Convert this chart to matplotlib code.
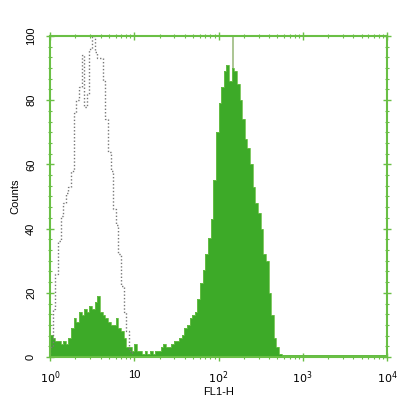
import numpy as np
import matplotlib
matplotlib.use("Agg")
import matplotlib.pyplot as plt
from matplotlib.ticker import FixedLocator, AutoMinorLocator, LogLocator, NullFormatter

plt.rcParams['font.family'] = ['Liberation Sans', 'DejaVu Sans']

# 128 log channels, 32 per decade, from 10^0 to 10^4
stained = [7, 6, 5, 5, 4, 5, 4, 6, 9, 12, 11, 14, 13, 15, 14, 16,
           15, 17, 19, 14, 13, 12, 11, 10, 10, 12, 9, 8, 6, 3, 3, 2,
           4, 2, 2, 1, 2, 1, 2, 1, 2, 2, 3, 4, 3, 3, 4, 5,
           5, 6, 7, 9, 10, 12, 13, 14, 18, 23, 27, 32, 37, 43, 55, 70,
           79, 84, 89, 91, 86, 90, 89, 85, 80, 74, 68, 65, 60, 53, 48, 45,
           40, 32, 30, 20, 13, 6, 3, 1, 0.5, 0.5, 0.5, 0.5, 0.5, 0.5, 0.5, 0.5,
           0.5, 0.5, 0.5, 0.5, 0.5, 0.5, 0.5, 0.5, 0.5, 0.5, 0.5, 0.5, 0.5, 0.5, 0.5, 0.5,
           0.5, 0.5, 0.5, 0.5, 0.5, 0.5, 0.5, 0.5, 0.5, 0.5, 0.5, 0.5, 0.5, 0.5, 0.5, 0.5]
control = [3, 15, 26, 36, 44, 48, 51, 53, 58, 76, 80, 84, 94, 78, 82, 96,
           100, 95, 93, 93, 86, 74, 64, 58, 46, 41, 32, 22, 14, 8, 2, 0] + [0] * 96
marker_pos = 148
channels_per_decade = 32

x_ticks = [1, 10, 100, 1000, 10000]
x_ticklabels = [r'$10^0$', '10', r'$10^2$', r'$10^3$', r'$10^4$']
y_ticks = [0, 20, 40, 60, 80, 100]

edges = 10 ** (np.arange(len(stained) + 1) / channels_per_decade)

fig = plt.figure(figsize=(4.11, 4.11), dpi=100)
ax = fig.add_axes([50/411, 54/411, 337/411, 321/411])

ax.axvline(marker_pos, color='#9dbb80', linewidth=1.2, zorder=0.5)
ax.stairs(stained, edges, fill=True, color='#3daa28', linewidth=0, zorder=2)
ax.stairs(stained, edges, color='#6cc04a', linewidth=0.6, zorder=2)
ax.stairs(control, edges, color='#777777', linestyle=(0, (1, 1.5)), linewidth=1.0, zorder=3)

ax.set_xscale('log')
ax.set_xlim(1, 10000)
ax.set_ylim(0, 100)

spine_color = '#6abf45'
for s in ax.spines.values():
    s.set_color(spine_color)
    s.set_linewidth(1.5)
    s.set_zorder(4)

ax.xaxis.set_major_locator(FixedLocator(x_ticks))
ax.set_xticklabels(x_ticklabels)
ax.xaxis.set_minor_locator(LogLocator(base=10, subs=np.arange(2, 10)))
ax.xaxis.set_minor_formatter(NullFormatter())
ax.set_yticks(y_ticks)
ax.set_yticklabels([str(v) for v in y_ticks], rotation=90, va='center')
ax.yaxis.set_minor_locator(AutoMinorLocator(6))

ax.tick_params(axis='both', which='major', direction='inout', length=6, width=1,
               color=spine_color, labelsize=8)
ax.tick_params(axis='x', which='major', pad=6)
ax.tick_params(axis='y', which='major', pad=7)
ax.tick_params(axis='both', which='minor', direction='inout', length=3, width=0.8,
               color=spine_color)
ax.tick_params(axis='x', top=True, which='both')
ax.tick_params(axis='y', right=True, which='both')

ax.set_xlabel('FL1-H', fontsize=8, labelpad=1)
ax.set_ylabel('Counts', fontsize=8, labelpad=4)

fig.savefig('out.png', dpi=100)
